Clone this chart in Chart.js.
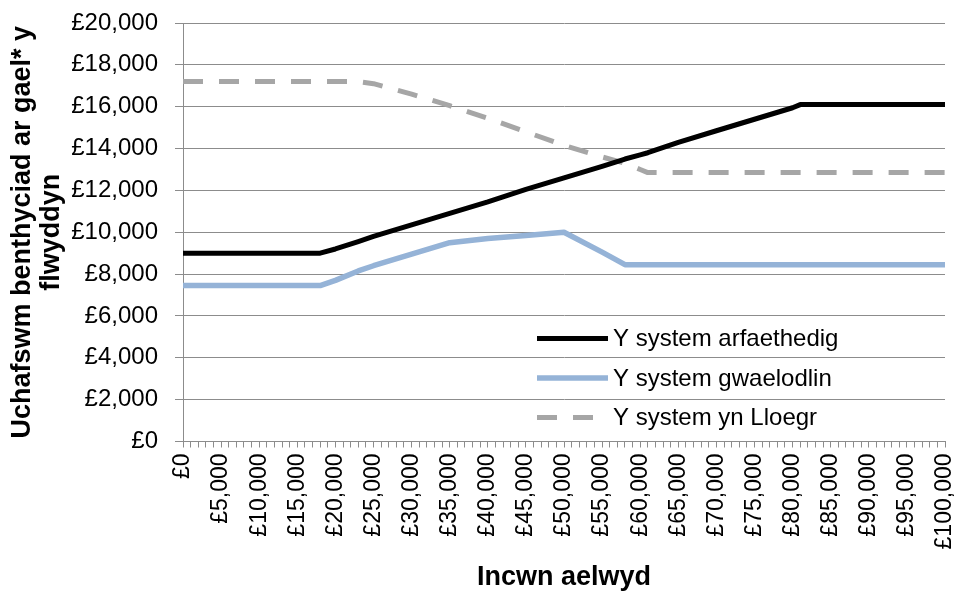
<!DOCTYPE html>
<html>
<head>
<meta charset="utf-8">
<script src="https://cdn.jsdelivr.net/npm/chart.js@4"></script>
<style>
  body { margin: 0; background: #fff; }
  canvas { display: block; }
</style>
</head>
<body>
<canvas id="chartCanvas" width="955" height="594"></canvas>
<script>
// Household income points (incl. the breakpoints)
const incomes = [0, 5000, 10000, 15000, 18000, 20000, 23000, 25000, 30000, 35000, 40000,
  45000, 50000, 55000, 58000, 60000, 61000, 65000, 70000, 75000, 80000, 81000,
  85000, 90000, 95000, 100000];

const proposed = [9000, 9000, 9000, 9000, 9000, 9200, 9550, 9800, 10350, 10900, 11450,
  12050, 12600, 13150, 13500, 13700, 13800, 14300, 14850, 15400, 15950, 16100,
  16100, 16100, 16100, 16100];

const baseline = [7450, 7450, 7450, 7450, 7450, 7700, 8150, 8400, 8950, 9500, 9700,
  9850, 10000, 9050, 8450, 8450, 8450, 8450, 8450, 8450, 8450, 8450,
  8450, 8450, 8450, 8450];

const england = [17200, 17200, 17200, 17200, 17200, 17200, 17200, 17100, 16600, 16050, 15450,
  14800, 14150, 13600, 13300, 13000, 12850, 12850, 12850, 12850, 12850, 12850,
  12850, 12850, 12850, 12850];

const seriesLabels = ['Y system arfaethedig', 'Y system gwaelodlin', 'Y system yn Lloegr'];

const yTitle = ['Uchafswm benthyciad ar gael* y', 'flwyddyn'];
const xTitle = 'Incwn aelwyd';

const FONT = "'Liberation Sans', Arial, sans-serif";
const GRID = '#8c8c8c';

const toPoints = vals => vals.map((v, i) => ({ x: incomes[i], y: v }));
const money = v => '£' + Number(v).toLocaleString('en-GB');

// legend drawn inside the plot, bottom right, like the original
const insideLegend = {
  id: 'insideLegend',
  afterDatasetsDraw(chart) {
    const { ctx, chartArea } = chart;
    ctx.save();
    ctx.font = '24px ' + FONT;
    ctx.textBaseline = 'middle';
    chart.data.datasets.forEach((ds, i) => {
      const y = chartArea.bottom - 103 + i * 39.5;
      const x0 = chartArea.right - 408;
      ctx.strokeStyle = ds.borderColor;
      ctx.lineWidth = ds.borderWidth;
      ctx.lineCap = 'butt';
      ctx.setLineDash(ds.borderDash || []);
      ctx.beginPath();
      ctx.moveTo(x0, y);
      ctx.lineTo(x0 + 71, y);
      ctx.stroke();
      ctx.setLineDash([]);
      ctx.fillStyle = '#000';
      ctx.fillText(ds.label, x0 + 76, y + 1);
    });
    ctx.restore();
  }
};

const ctx = document.getElementById('chartCanvas').getContext('2d');
const myChart = new Chart(ctx, {
  type: 'line',
  data: {
    datasets: [
      { label: seriesLabels[0], data: toPoints(proposed), borderColor: '#000000', borderWidth: 5 },
      { label: seriesLabels[1], data: toPoints(baseline), borderColor: '#95b3d7', borderWidth: 5.5 },
      { label: seriesLabels[2], data: toPoints(england), borderColor: '#a6a6a6', borderWidth: 5, borderDash: [20, 16] }
    ]
  },
  options: {
    responsive: false,
    animation: false,
    elements: {
      point: { radius: 0 },
      line: { tension: 0, borderJoinStyle: 'round', fill: false }
    },
    layout: { padding: { left: 0, right: 10, top: 23, bottom: 0 } },
    plugins: {
      legend: { display: false },
      tooltip: { enabled: false }
    },
    scales: {
      x: {
        type: 'linear',
        min: 0,
        max: 100000,
        afterFit(scale) {
          scale.height = 594 - 441.5;
          scale.paddingLeft = 0;
          scale.paddingRight = 0;
        },
        ticks: {
          stepSize: 1000,
          autoSkip: false,
          minRotation: 90,
          maxRotation: 90,
          padding: 6,
          color: '#000',
          font: { family: FONT, size: 23 },
          callback: v => (v % 5000 === 0 ? money(v) : '')
        },
        grid: { drawOnChartArea: false, color: GRID, tickLength: 6 },
        border: { color: GRID },
        title: {
          display: true,
          text: xTitle,
          color: '#000',
          font: { family: FONT, size: 27, weight: 'bold', lineHeight: 1.1 },
          padding: { top: 0, bottom: 2 }
        }
      },
      y: {
        min: 0,
        max: 20000,
        afterFit(scale) {
          scale.width = 183;
          scale.paddingTop = 0;
          scale.paddingBottom = 0;
        },
        ticks: {
          stepSize: 2000,
          padding: 17,
          color: '#000',
          font: { family: FONT, size: 24 },
          callback: v => money(v)
        },
        grid: { color: GRID, tickLength: 8 },
        border: { color: GRID },
        title: {
          display: true,
          text: yTitle,
          color: '#000',
          font: { family: FONT, size: 27, weight: 'bold', lineHeight: 1.07 },
          padding: { top: 8, bottom: 0 }
        }
      }
    }
  },
  plugins: [insideLegend]
});
</script>
</body>
</html>
